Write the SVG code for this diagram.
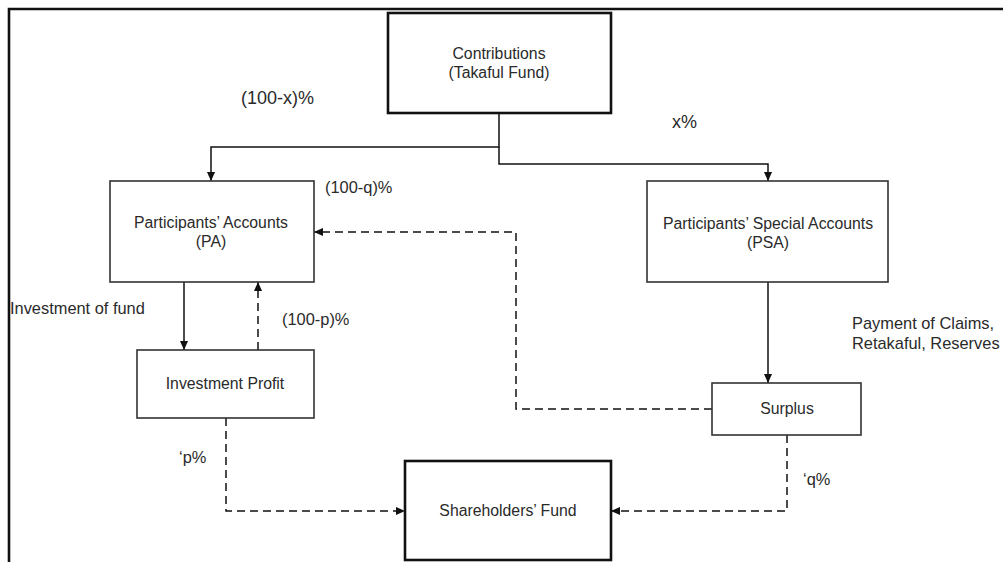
<svg xmlns="http://www.w3.org/2000/svg" width="1003" height="562" viewBox="0 0 1003 562">
  <defs>
    <marker id="arr" viewBox="0 0 10 10" refX="10" refY="5" markerWidth="9" markerHeight="9" markerUnits="userSpaceOnUse" orient="auto">
      <path d="M0,0.5 L10,5 L0,9.5 z" fill="#111"/>
    </marker>
    <style>
      .box { fill: #fff; stroke: #333; stroke-width: 1.6; }
      .thick { fill: #fff; stroke: #111; stroke-width: 2.6; }
      .t { font-family: "Liberation Sans", Arial, sans-serif; font-size: 15.8px; fill: #2a2a2a; }
      .l { font-size: 16.4px; }
      .big { font-size: 18px; }
      .c { text-anchor: middle; }
      .ln { fill: none; stroke: #111; stroke-width: 1.5; marker-end: url(#arr); }
      .dash { fill: none; stroke: #111; stroke-width: 1.5; stroke-dasharray: 8 5; marker-end: url(#arr); }
    </style>
  </defs>
  <rect width="1003" height="562" fill="#fff"/>
  <path d="M9,562 V9 H1003" fill="none" stroke="#111" stroke-width="2.6"/>

  <g id="connectors">
    <path class="ln" d="M499,113 V147 H211 V181"/>
    <path class="ln" d="M499,147 V164 H768 V181"/>
    <path class="ln" d="M184,282 V350"/>
    <path class="dash" d="M258,350 V282"/>
    <path class="ln" d="M768,282 V383"/>
    <path class="dash" d="M712,409 H516 V232 H314"/>
    <path class="dash" d="M226,418 V511 H405"/>
    <path class="dash" d="M787,435 V511 H611"/>
  </g>

  <g id="contributions">
    <rect class="thick" x="388" y="13" width="223" height="100"/>
    <text class="t c" x="499" y="58.5">Contributions</text>
    <text class="t c" x="499" y="77.5">(Takaful Fund)</text>
  </g>
  <g id="pa">
    <rect class="box" x="110" y="181" width="204" height="101"/>
    <text class="t c" x="211" y="227.5">Participants’ Accounts</text>
    <text class="t c" x="211" y="246.5">(PA)</text>
  </g>
  <g id="psa">
    <rect class="box" x="647" y="181" width="241" height="101"/>
    <text class="t c" x="768" y="228.5">Participants’ Special Accounts</text>
    <text class="t c" x="768" y="247.5">(PSA)</text>
  </g>
  <g id="investment-profit">
    <rect class="box" x="137" y="350" width="177" height="68"/>
    <text class="t c" x="225" y="388.5">Investment Profit</text>
  </g>
  <g id="surplus">
    <rect class="box" x="712" y="383" width="149" height="52"/>
    <text class="t c" x="787" y="413.5">Surplus</text>
  </g>
  <g id="shareholders-fund">
    <rect class="thick" x="405" y="461" width="206" height="99"/>
    <text class="t c" x="508" y="515.5">Shareholders’ Fund</text>
  </g>

  <g id="labels">
    <text class="t big" x="241" y="104">(100-x)%</text>
    <text class="t big" x="672" y="128">x%</text>
    <text class="t l" x="325" y="193">(100-q)%</text>
    <text class="t l" x="282" y="325">(100-p)%</text>
    <text class="t l" x="10" y="314">Investment of fund</text>
    <text class="t l" x="852" y="329">Payment of Claims,</text>
    <text class="t l" x="852" y="349">Retakaful, Reserves</text>
    <text class="t l" x="179" y="463">‘p%</text>
    <text class="t l" x="803" y="485">‘q%</text>
  </g>
</svg>
